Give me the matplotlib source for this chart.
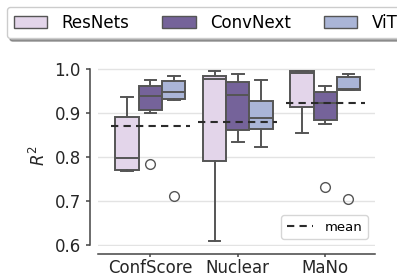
import matplotlib
matplotlib.use("Agg")
import matplotlib.pyplot as plt
from matplotlib.patches import Patch
from matplotlib.lines import Line2D

categories = ["ConfScore", "Nuclear", "MaNo"]
models = ["ResNets", "ConvNext", "ViT"]
colors = ["#e3d5ea", "#75639a", "#aab5d7"]

# box stats per model, per category: (whislo, q1, med, q3, whishi)
resnets_stats = [(0.769, 0.772, 0.798, 0.891, 0.936),
                 (0.609, 0.792, 0.979, 0.985, 0.995),
                 (0.855, 0.915, 0.992, 0.995, 0.996)]
convnext_stats = [(0.900, 0.908, 0.940, 0.962, 0.976),
                  (0.835, 0.861, 0.942, 0.971, 0.990),
                  (0.875, 0.884, 0.924, 0.948, 0.961)]
vit_stats = [(0.930, 0.933, 0.949, 0.974, 0.985),
             (0.823, 0.865, 0.889, 0.929, 0.976),
             (0.952, 0.954, 0.955, 0.982, 0.990)]
resnets_fliers = [[], [], []]
convnext_fliers = [[0.785], [], [0.733]]
vit_fliers = [[0.711], [], [0.704]]
means = [0.870, 0.881, 0.924]
yticks = [0.6, 0.7, 0.8, 0.9, 1.0]

all_stats = [resnets_stats, convnext_stats, vit_stats]
all_fliers = [resnets_fliers, convnext_fliers, vit_fliers]

dpi = 100
fig = plt.figure(figsize=(3.97, 2.78), dpi=dpi)
ax = fig.add_axes([98 / 397, (278 - 246) / 278, (375 - 98) / 397, (246 - 64.9) / 278])

# spines first (set_position resets ticks)
for s in ["top", "right"]:
    ax.spines[s].set_visible(False)
ax.spines["left"].set_position(("outward", 8 * 72 / dpi))
ax.spines["bottom"].set_position(("outward", 8 * 72 / dpi))
for s in ["left", "bottom"]:
    ax.spines[s].set_color("#444444")
    ax.spines[s].set_linewidth(1.1)

edge = "#555555"
width = 0.8 / 3
for m, (stats, fl, col) in enumerate(zip(all_stats, all_fliers, colors)):
    bx = []
    for c, s in enumerate(stats):
        bx.append(dict(whislo=s[0], q1=s[1], med=s[2], q3=s[3], whishi=s[4], fliers=fl[c]))
    pos = [c + (m - 1) * width for c in range(len(categories))]
    ax.bxp(bx, positions=pos, widths=width, patch_artist=True, manage_ticks=False,
           boxprops=dict(facecolor=col, edgecolor=edge, linewidth=1.4),
           medianprops=dict(color=edge, linewidth=1.4),
           whiskerprops=dict(color=edge, linewidth=1.4),
           capprops=dict(color=edge, linewidth=1.4),
           capwidths=width * 0.5,
           flierprops=dict(marker="o", markerfacecolor="none", markeredgecolor=edge,
                           markersize=7, markeredgewidth=1.0))

for c, mv in enumerate(means):
    ax.plot([c - 0.45, c + 0.45], [mv, mv], ls=(0, (3.5, 2.5)), color="#2b2b2b", lw=1.5, zorder=5)

ax.set_xlim(-0.6, 2.57)
ax.set_ylim(0.598, 1.01)
ax.set_xticks(range(len(categories)))
ax.set_xticklabels(categories)
ax.set_yticks(yticks)
ax.set_yticklabels([f"{v:.1f}" for v in yticks])
ax.tick_params(axis="both", width=1.1, color="#444444",
               labelsize=12, labelcolor="#262626")
ax.tick_params(axis="x", length=2.5, pad=1.0)
ax.tick_params(axis="y", length=3.0, pad=3.5)
ax.spines["left"].set_bounds(0.6, 1.0)
ax.set_ylabel("$R^2$", fontsize=12, color="#262626", labelpad=4)
ax.yaxis.grid(True, color="#e3e3e3", lw=1.0, zorder=0)
ax.set_axisbelow(True)

ax.legend(handles=[Line2D([0], [0], ls=(0, (3.5, 2.5)), color="#2b2b2b", lw=1.5)],
          labels=["mean"], loc="lower right", fontsize=9.5, frameon=True,
          bbox_to_anchor=(1 - 7 / 277, 7 / 181), borderaxespad=0,
          handlelength=2.0, handletextpad=0.9, edgecolor="#cccccc")

handles = [Patch(facecolor=c, edgecolor=edge, linewidth=1.0) for c in colors]
fig.legend(handles, models, loc="upper left", bbox_to_anchor=(7 / 397, 1 - 7 / 278),
           ncol=3, fontsize=12, frameon=True, handlelength=2.0, handleheight=0.75,
           columnspacing=2.0, handletextpad=0.85, edgecolor="#cccccc", shadow=True,
           borderpad=0.4, borderaxespad=0)

fig.savefig("out.png", dpi=dpi)
